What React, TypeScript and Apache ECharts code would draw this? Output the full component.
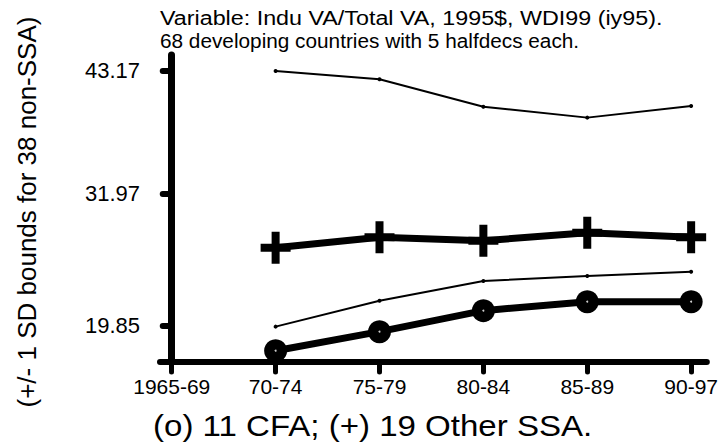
import React, { useEffect, useRef } from "react";
import * as echarts from "echarts";

const periods = ["1965-69", "70-74", "75-79", "80-84", "85-89", "90-97"];
const dataPeriodIdx = [1, 2, 3, 4, 5];
const upperBound = [43.14, 42.38, 39.88, 38.88, 39.95];
const otherSSA = [27.0, 27.95, 27.64, 28.37, 27.95];
const lowerBound = [19.79, 22.16, 23.96, 24.42, 24.81];
const cfa = [17.59, 19.33, 21.25, 22.07, 22.07];
const yTicks = [19.85, 31.97, 43.17];

const titleLine1 = "Variable: Indu VA/Total VA, 1995$, WDI99 (iy95).";
const titleLine2 = "68 developing countries with 5 halfdecs each.";
const xTitle = "(o) 11 CFA; (+) 19 Other SSA.";
const yTitle = "(+/- 1 SD bounds for 38 non-SSA)";

const FONT = '"Liberation Sans", Arial, sans-serif';
const PLUS = "path://M11,0 H19 V12 H30 V20 H19 V32 H11 V20 H0 V12 H11 Z";

const pairs = (vals: number[]) => vals.map((v, i) => [dataPeriodIdx[i], v]);

export default function App() {
  const ref = useRef<HTMLDivElement>(null);
  useEffect(() => {
    if (!ref.current) return;
    const chart = echarts.init(ref.current, undefined, { renderer: "svg" });
    chart.setOption({
      animation: false,
      backgroundColor: "#ffffff",
      grid: { left: 160, top: 55, width: 558, height: 307, containLabel: false },
      xAxis: {
        type: "value",
        min: -0.113,
        max: 5.151,
        splitLine: { show: false },
        axisLine: { show: true, lineStyle: { color: "#000", width: 6, cap: "round" } },
        axisTick: {
          show: true,
          customValues: [0, 1, 2, 3, 4, 5],
          length: 10,
          lineStyle: { color: "#000", width: 5, cap: "round" },
        },
        axisLabel: {
          customValues: [0, 1, 2, 3, 4, 5],
          formatter: (v: number) => periods[Math.round(v)],
          color: "#000",
          fontFamily: FONT,
          fontSize: 21,
          margin: 14,
        },
      },
      yAxis: {
        type: "value",
        min: 16.56,
        max: 44.6,
        splitLine: { show: false },
        axisLine: { show: true, lineStyle: { color: "#000", width: 7, cap: "round" } },
        axisTick: {
          show: true,
          customValues: yTicks,
          length: 9,
          lineStyle: { color: "#000", width: 6, cap: "round" },
        },
        axisLabel: {
          customValues: yTicks,
          formatter: (v: number) => v.toFixed(2),
          color: "#000",
          fontFamily: FONT,
          fontSize: 22,
          margin: 20,
        },
      },
      graphic: [
        {
          type: "text",
          x: 160,
          y: 18,
          scaleX: 1.11,
          style: { text: titleLine1, font: `21px ${FONT}`, fill: "#000", align: "left", verticalAlign: "middle" },
        },
        {
          type: "text",
          x: 160,
          y: 40,
          scaleX: 0.99,
          style: { text: titleLine2, font: `21px ${FONT}`, fill: "#000", align: "left", verticalAlign: "middle" },
        },
        {
          type: "text",
          x: 153,
          y: 426,
          scaleX: 1.14,
          style: { text: xTitle, font: `29px ${FONT}`, fill: "#000", align: "left", verticalAlign: "middle" },
        },
        {
          type: "text",
          x: 27,
          y: 212,
          rotation: Math.PI / 2,
          style: { text: yTitle, font: `26px ${FONT}`, fill: "#000", align: "center", verticalAlign: "middle" },
        },
      ],
      series: [
        {
          type: "line",
          data: pairs(upperBound),
          lineStyle: { color: "#000", width: 2 },
          itemStyle: { color: "#000" },
          symbol: "circle",
          symbolSize: 4,
          z: 2,
        },
        {
          type: "line",
          data: pairs(lowerBound),
          lineStyle: { color: "#000", width: 2 },
          itemStyle: { color: "#000" },
          symbol: "circle",
          symbolSize: 4,
          z: 2,
        },
        {
          type: "line",
          data: pairs(otherSSA),
          lineStyle: { color: "#000", width: 7 },
          itemStyle: { color: "#000" },
          symbol: PLUS,
          symbolSize: [30, 32],
          z: 3,
        },
        {
          type: "line",
          data: pairs(cfa),
          lineStyle: { color: "#000", width: 7 },
          itemStyle: { color: "#000" },
          symbol: "circle",
          symbolSize: 23,
          z: 3,
        },
        {
          type: "scatter",
          data: pairs(cfa),
          itemStyle: { color: "#fff" },
          symbol: "circle",
          symbolSize: 2,
          z: 4,
          silent: true,
        },
      ],
    });
    return () => chart.dispose();
  }, []);
  return <div ref={ref} style={{ width: 721, height: 446, position: "absolute", left: 0, top: 0 }} />;
}
